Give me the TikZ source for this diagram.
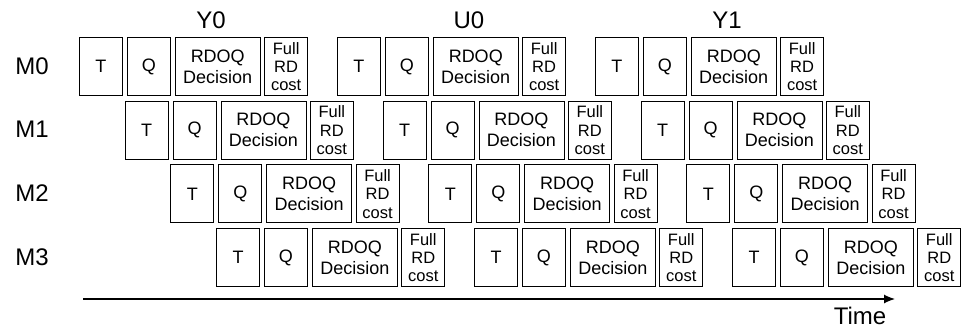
\documentclass[tikz,border=0pt]{standalone}
\usepackage{fontspec}
\setmainfont{Liberation Sans}
\usetikzlibrary{arrows.meta,positioning}

\begin{document}
\begin{tikzpicture}[x=1pt,y=-1pt,>=Latex,line width=0.9pt,
  stage/.style={draw,inner sep=0pt,minimum width=43pt,minimum height=58pt,
    align=center,font=\fontsize{18}{21}\selectfont},
  wide/.style={stage,minimum width=85pt},
  cost/.style={stage,font=\fontsize{16.5}{18.3}\selectfont},
  lbl/.style={font=\fontsize{24}{28}\selectfont}]
\useasboundingbox (0,0) rectangle (964,330);

% Component labels over the first row.
\node[lbl] (Y0) at (211,20) {Y0};
\node[lbl] (U0) at (469,20) {U0};
\node[lbl] (Y1) at (727,20) {Y1};

% One row per module, each row shifted right by one stage.
\foreach \r/\yt in {0/37,1/100.7,2/164.4,3/228}{
  \node[lbl] (M\r) at (32,\yt+29) {M\r};
  \foreach \g in {0,1,2}{
    \pgfmathsetmacro\xl{79+45.7*\r+258*\g}
    \node[stage,anchor=north west] (T\r\g) at (\xl,\yt) {T};
    \node[stage,right=4pt of T\r\g] (Q\r\g) {Q};
    \node[wide,right=4pt of Q\r\g] (D\r\g) {RDOQ\\Decision};
    \node[cost,right=3.5pt of D\r\g] (F\r\g) {Full\\RD\\cost};
  }
}

% Time axis.
\coordinate (t0) at (83,299);
\coordinate (t1) at (895,299);
\draw[-{Latex[length=11pt,width=9pt]},line width=1.2pt] (t0) -- (t1);
\node[lbl] (time) at (860,316) {Time};

\end{tikzpicture}
\end{document}
